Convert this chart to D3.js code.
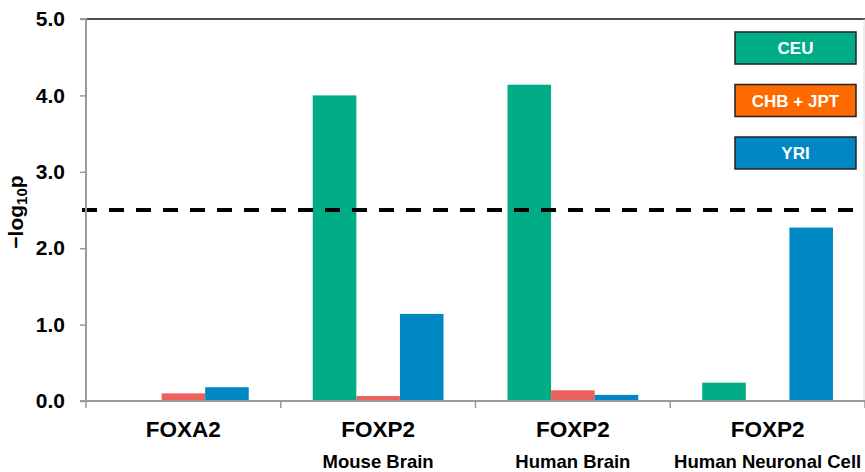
<!DOCTYPE html>
<html>
<head>
<meta charset="utf-8">
<script src="https://cdn.jsdelivr.net/npm/d3@7"></script>
<style>
  html, body { margin: 0; padding: 0; background: #fff; }
  svg { display: block; font-family: Arial, "Liberation Sans", sans-serif; }
</style>
</head>
<body>
<svg id="chart" width="865" height="472"></svg>
<script>
// Gene / tissue groups along the x axis
const genes = ["FOXA2", "FOXP2", "FOXP2", "FOXP2"];
const tissues = ["", "Mouse Brain", "Human Brain", "Human Neuronal Cell"];

// Populations and their -log10 p values per group
const populations = ["CEU", "CHB + JPT", "YRI"];
const ceuValues = [0, 4.0, 4.14, 0.24];
const chbJptValues = [0.10, 0.065, 0.14, 0];
const yriValues = [0.18, 1.14, 0.08, 2.27];

const yTicks = [0, 1, 2, 3, 4, 5];
const threshold = 2.5;

const barColors = ["#00AC85", "#EE605C", "#0088C4"];
const legendColors = ["#00AC85", "#FF6A00", "#0088C4"];

const svg = d3.select("#chart");
const W = 865, H = 472;
const margin = { top: 19, right: 2, bottom: 71, left: 86 };
const innerW = 779;
const innerH = H - margin.top - margin.bottom;

const g = svg.append("g").attr("transform", `translate(${margin.left},${margin.top})`);

const groupIdx = d3.range(genes.length);
const x0 = d3.scaleBand().domain(groupIdx).range([0, innerW]).paddingInner(0).paddingOuter(0);
const x1 = d3.scaleBand().domain(d3.range(populations.length))
  .range([32, x0.bandwidth() - 32]).padding(0);
const y = d3.scaleLinear().domain([0, 5]).range([innerH, 0]);

const series = [ceuValues, chbJptValues, yriValues];

// Frame: dark top line, light right line
g.append("line").attr("x1", 0).attr("x2", innerW).attr("y1", 0).attr("y2", 0)
  .attr("stroke", "#111").attr("stroke-width", 1.5);
g.append("line").attr("x1", innerW - 1).attr("x2", innerW - 1).attr("y1", 0).attr("y2", innerH)
  .attr("stroke", "#ddd").attr("stroke-width", 1);

// Bars
groupIdx.forEach(i => {
  series.forEach((vals, s) => {
    const v = vals[i];
    if (v <= 0) return;
    g.append("rect")
      .attr("x", x0(i) + x1(s))
      .attr("y", y(v))
      .attr("width", x1.bandwidth())
      .attr("height", y(0) - y(v))
      .attr("fill", barColors[s]);
  });
});

// Threshold dashed line
g.append("line")
  .attr("x1", -4).attr("x2", innerW)
  .attr("y1", y(threshold)).attr("y2", y(threshold))
  .attr("stroke", "#000").attr("stroke-width", 4)
  .attr("stroke-dasharray", "15,12");

// Y axis
const yAxis = d3.axisLeft(y).tickValues(yTicks).tickFormat(d3.format(".1f"))
  .tickSize(6).tickPadding(15);
const ya = g.append("g").call(yAxis);
ya.select(".domain").attr("stroke", "#999").attr("stroke-width", 2).attr("d", `M-6,${innerH}H0V0H-6`);
ya.selectAll(".tick line").attr("stroke", "#999").attr("stroke-width", 1.5);
ya.selectAll(".tick text").attr("fill", "#000").attr("font-size", 21).attr("font-weight", "bold")
  .attr("font-family", "Arial, 'Liberation Sans', sans-serif");

// X axis line and group boundary ticks
g.append("line").attr("x1", 0).attr("x2", innerW).attr("y1", innerH).attr("y2", innerH)
  .attr("stroke", "#999").attr("stroke-width", 2);
g.selectAll(".xtick").data(d3.range(genes.length + 1)).enter().append("line")
  .attr("x1", d => d < genes.length ? x0(d) : innerW).attr("x2", d => d < genes.length ? x0(d) : innerW)
  .attr("y1", innerH).attr("y2", innerH + 7)
  .attr("stroke", "#999").attr("stroke-width", 1.5);

// Group labels
g.selectAll(".gene").data(groupIdx).enter().append("text")
  .attr("x", d => x0(d) + x0.bandwidth() / 2)
  .attr("y", 437 - margin.top)
  .attr("text-anchor", "middle")
  .attr("font-size", 22.5).attr("font-weight", "bold").attr("fill", "#000")
  .text(d => genes[d]);
g.selectAll(".tissue").data(groupIdx).enter().append("text")
  .attr("x", d => x0(d) + x0.bandwidth() / 2)
  .attr("y", 468 - margin.top)
  .attr("text-anchor", "middle")
  .attr("font-size", 18.5).attr("font-weight", "bold").attr("fill", "#000")
  .text(d => tissues[d]);

// Y axis title: -log10p
const yt = svg.append("text")
  .attr("transform", `translate(23,212) rotate(-90)`)
  .attr("text-anchor", "middle")
  .attr("font-size", 21).attr("font-weight", "bold").attr("fill", "#000");
yt.append("tspan").text("\u2212log");
yt.append("tspan").attr("font-size", 15).attr("dy", 4).text("10");
yt.append("tspan").attr("dy", -4).text("p");

// Legend boxes
const legend = svg.append("g").attr("transform", "translate(735,32)");
const lg = legend.selectAll("g").data(populations).enter().append("g")
  .attr("transform", (d, i) => `translate(0,${i * 52.5})`);
lg.append("rect").attr("width", 121).attr("height", 32)
  .attr("fill", (d, i) => legendColors[i]).attr("stroke", "#222").attr("stroke-width", 1.5);
lg.append("text").attr("x", 60.5).attr("y", 22).attr("text-anchor", "middle")
  .attr("font-size", 17).attr("font-weight", "bold").attr("fill", "#fff")
  .text(d => d);
</script>
</body>
</html>
